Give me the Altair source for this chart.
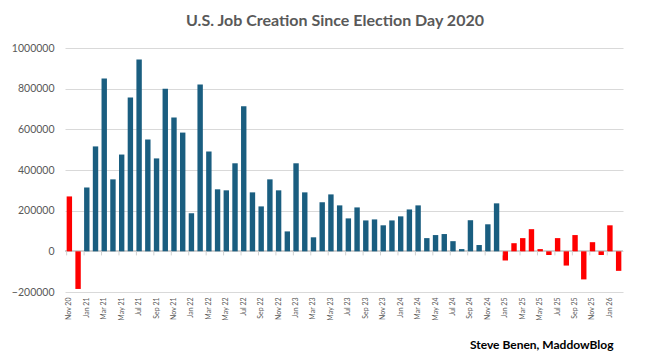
import altair as alt
import pandas as pd

month_names = ["Jan", "Feb", "Mar", "Apr", "May", "Jun",
               "Jul", "Aug", "Sep", "Oct", "Nov", "Dec"]

months = ["Nov 20", "Dec 20"]
for yy in ["21", "22", "23", "24", "25"]:
    months += [f"{m} {yy}" for m in month_names]
months += ["Jan 26", "Feb 26"]

jobs_2020 = [270000, -185000]
jobs_2021 = [314000, 516000, 850000, 354000, 476000, 756000, 943000, 550000, 457000, 800000, 658000, 584000]
jobs_2022 = [187000, 820000, 491000, 305000, 300000, 433000, 713000, 290000, 221000, 354000, 300000, 98000]
jobs_2023 = [433000, 290000, 69000, 241000, 280000, 226000, 162000, 216000, 152000, 157000, 128000, 152000]
jobs_2024 = [172000, 206000, 226000, 65000, 80000, 85000, 50000, 11000, 153000, 31000, 133000, 236000]
jobs_2025 = [-45000, 40000, 65000, 109000, 11000, -18000, 65000, -70000, 80000, -138000, 45000, -18000]
jobs_2026 = [128000, -96000]

jobs = jobs_2020 + jobs_2021 + jobs_2022 + jobs_2023 + jobs_2024 + jobs_2025 + jobs_2026
admin = (["Trump"] * len(jobs_2020)
         + ["Biden"] * (len(jobs_2021) + len(jobs_2022) + len(jobs_2023) + len(jobs_2024))
         + ["Trump"] * (len(jobs_2025) + len(jobs_2026)))

df = pd.DataFrame({"month": months, "jobs": jobs, "admin": admin})
tick_df = pd.DataFrame({"month": months[::2]})

GRAY = "#595959"
FONT = "Lato"

x_scale = alt.Scale(domain=months, paddingInner=0.38, paddingOuter=0.19)
y_scale = alt.Scale(domain=[-200000, 1000000], nice=False, zero=False)

bars = alt.Chart(df).mark_bar().encode(
    x=alt.X("month:N", sort=months, scale=x_scale,
            axis=alt.Axis(values=months[::2], labelAngle=-90, domain=False, ticks=False,
                          labelFontSize=7, labelColor=GRAY, labelFont=FONT, labelPadding=5,
                          title="Steve Benen, MaddowBlog", titleFont=FONT, titleFontSize=12,
                          titleFontWeight="bold", titleColor="#000000", titleAnchor="end",
                          titleAlign="right", titleBaseline="alphabetic",
                          titleX=548, titleY=56)),
    y=alt.Y("jobs:Q", scale=y_scale,
            axis=alt.Axis(values=list(range(-200000, 1000001, 200000)), format="d",
                          grid=True, gridColor="#d9d9d9", domain=False, ticks=False,
                          labelColor=GRAY, labelFont=FONT, labelFontSize=10.5,
                          labelPadding=11, title=None)),
    color=alt.Color("admin:N", scale=alt.Scale(domain=["Trump", "Biden"],
                                               range=["#ff0000", "#1a5e80"]), legend=None),
)

zero_line = alt.Chart(df).mark_rule(color="#d0d0d0", strokeWidth=1).encode(
    y=alt.datum(0, scale=y_scale)
)

zero_ticks = alt.Chart(tick_df).mark_rule(color="#d0d0d0", strokeWidth=1).encode(
    x=alt.X("month:N", sort=months, scale=x_scale, bandPosition=0),
    y=alt.datum(0),
    y2=alt.datum(-20000),
)

chart = alt.layer(zero_line, bars, zero_ticks).properties(
    width=558,
    height=244,
    title=alt.TitleParams("U.S. Job Creation Since Election Day 2020", font=FONT, fontSize=16,
                          fontWeight="bold", color=GRAY, anchor="middle", offset=14, dx=-9),
    autosize=alt.AutoSizeParams(type="none"),
    padding={"left": 57, "top": 40, "right": 26, "bottom": 61},
).configure_view(stroke=None)

chart.save("out.html", embed_options={"renderer": "svg", "actions": False})
